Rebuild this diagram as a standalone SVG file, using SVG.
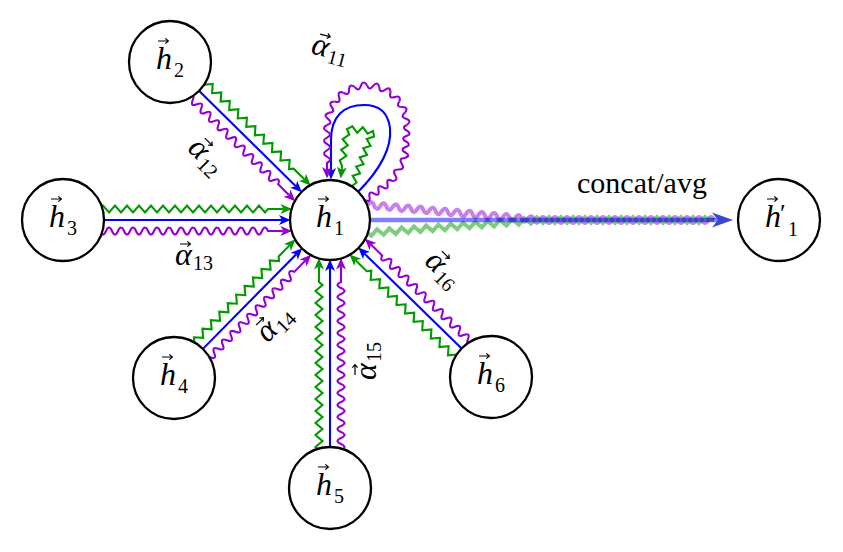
<svg xmlns="http://www.w3.org/2000/svg" width="843" height="552" viewBox="0 0 843 552">
<style>
.b{fill:none;stroke:#0000ff;stroke-width:2.1}
.g{fill:none;stroke:#009a00;stroke-width:2.1}
.p{fill:none;stroke:#9400d3;stroke-width:2.1}
.ob{fill:none;stroke:#0000ff;stroke-width:4.5;stroke-opacity:0.5}
.og{fill:none;stroke:#009a00;stroke-width:4;stroke-opacity:0.5}
.op{fill:none;stroke:#9400d3;stroke-width:4;stroke-opacity:0.5}
.node circle{fill:#fff;stroke:#000;stroke-width:2.3}
.lb{font-family:"Liberation Serif","DejaVu Serif",serif;font-style:italic;font-size:32px;fill:#000}
.s{font-style:normal;font-size:20px}
.vec{fill:none;stroke:#000;stroke-width:1.2}
.txt{font-family:"Liberation Serif","DejaVu Serif",serif;font-size:30px;fill:#000}
</style>
<defs>
<marker id="mb" markerUnits="userSpaceOnUse" orient="auto" overflow="visible" markerWidth="20" markerHeight="20" refX="0" refY="0"><path d="M8.5,0 L-3,-5 L0,0 L-3,5Z" fill="#0000ff"/></marker>
<marker id="mg" markerUnits="userSpaceOnUse" orient="auto" overflow="visible" markerWidth="20" markerHeight="20" refX="0" refY="0"><path d="M8.5,0 L-3,-5 L0,0 L-3,5Z" fill="#009a00"/></marker>
<marker id="mp" markerUnits="userSpaceOnUse" orient="auto" overflow="visible" markerWidth="20" markerHeight="20" refX="0" refY="0"><path d="M8.5,0 L-3,-5 L0,0 L-3,5Z" fill="#9400d3"/></marker>
<marker id="mo" markerUnits="userSpaceOnUse" orient="auto" overflow="visible" markerWidth="30" markerHeight="30" refX="0" refY="0"><path d="M10,0 L-11,-7.5 L-5,0 L-11,7.5Z" fill="#3a48cf"/></marker>
<path id="vec" class="vec" d="M0,0 H10 M7.3,-2.6 L10.4,0 L7.3,2.6"/>
<g id="edgeLong">
<path class="b" d="M242,0 L48,0" marker-end="url(#mb)"/>
<path class="g" d="M242,11 l-3,3.5 l-6,-7 l-6,7 l-6,-7 l-6,7 l-6,-7 l-6,7 l-6,-7 l-6,7 l-6,-7 l-6,7 l-6,-7 l-6,7 l-6,-7 l-6,7 l-6,-7 l-6,7 l-6,-7 l-6,7 l-6,-7 l-6,7 l-6,-7 l-6,7 l-6,-7 l-6,7 l-6,-7 l-6,7 l-6,-7 l-6,7 l-6,-7 l-3,3.5 L46.5,11" marker-end="url(#mg)"/>
<path class="p" d="M242,-11 q-3,-7 -6,0 t-6,0 t-6,0 t-6,0 t-6,0 t-6,0 t-6,0 t-6,0 t-6,0 t-6,0 t-6,0 t-6,0 t-6,0 t-6,0 t-6,0 t-6,0 t-6,0 t-6,0 t-6,0 t-6,0 t-6,0 t-6,0 t-6,0 t-6,0 t-6,0 t-6,0 t-6,0 t-6,0 t-6,0 t-6,0 L46.5,-11" marker-end="url(#mp)"/>
</g>
<g id="edgeDiag">
<path class="b" d="M194,0 L48,0" marker-end="url(#mb)"/>
<path class="g" d="M194,11 l-3,3.5 l-6,-7 l-6,7 l-6,-7 l-6,7 l-6,-7 l-6,7 l-6,-7 l-6,7 l-6,-7 l-6,7 l-6,-7 l-6,7 l-6,-7 l-6,7 l-6,-7 l-6,7 l-6,-7 l-6,7 l-6,-7 l-6,7 l-6,-7 l-3,3.5 L46.5,11" marker-end="url(#mg)"/>
<path class="p" d="M194,-11 q-3,-7 -6,0 t-6,0 t-6,0 t-6,0 t-6,0 t-6,0 t-6,0 t-6,0 t-6,0 t-6,0 t-6,0 t-6,0 t-6,0 t-6,0 t-6,0 t-6,0 t-6,0 t-6,0 t-6,0 t-6,0 t-6,0 t-6,0 L46.5,-11" marker-end="url(#mp)"/>
</g>
<path id="arcw" d="M407,125 Q412.44,120.97 406.02,118.82 Q399.60,116.67 405.04,112.64"/>
</defs>
<rect width="843" height="552" fill="#fff"/>
<g id="connectors">
<use href="#edgeLong" transform="translate(330,220) rotate(180)"/>
<use href="#edgeLong" transform="translate(330,220) rotate(90)"/>
<use href="#edgeDiag" transform="translate(330,220) rotate(-135.4)"/>
<use href="#edgeDiag" transform="translate(330,220) rotate(134.6)"/>
<use href="#edgeDiag" transform="translate(330,220) rotate(44.3)"/>
<g id="selfloop">
<path class="b" d="M357,193 C380,170 392,148 390,128 C388,112 378,105 364,105 C344,105 331,116 331,140 L331,171" marker-end="url(#mb)"/>
<path class="g" d="M352,186 L356.55,182.48 352.70,175.76 360.06,173.31 356.20,166.59 363.56,164.14 359.70,157.41 367.06,154.97 363.21,148.24 370.56,145.80 366.71,139.07 374.06,136.62 373,131 367.57,133.59 362.83,127.21 357.17,132.79 352.43,126.41 347,129 349.26,134.69 342.60,139.18 347.83,145.27 341.17,149.76 346.41,155.85 339.74,160.34 342,166 341.6,170" marker-end="url(#mg)"/>
<path class="p" transform="translate(365,200) rotate(-35.1)" d="M0,0 q2.75,6 5.5,0 t5.5,0 t5.5,0 t5.5,0 t5.5,0 t5.5,0"/>
<path class="p" transform="translate(392,181) rotate(-60.5)" d="M0,0 q3.3,6 6.6,0 t6.6,0 t6.6,0 t6.6,0"/>
<path class="p" transform="translate(405,158) rotate(-86.5)" d="M0,0 q2.754,6 5.507,0 t5.507,0 t5.507,0 t5.507,0 t5.507,0 t5.507,0"/>
<use class="p" href="#arcw"/>
<use class="p" href="#arcw" transform="rotate(-18 367 125)"/>
<use class="p" href="#arcw" transform="rotate(-36 367 125)"/>
<use class="p" href="#arcw" transform="rotate(-54 367 125)"/>
<use class="p" href="#arcw" transform="rotate(-72 367 125)"/>
<use class="p" href="#arcw" transform="rotate(-90 367 125)"/>
<use class="p" href="#arcw" transform="rotate(-108 367 125)"/>
<use class="p" href="#arcw" transform="rotate(-126 367 125)"/>
<use class="p" href="#arcw" transform="rotate(-144 367 125)"/>
<use class="p" href="#arcw" transform="rotate(-162 367 125)"/>
<path class="p" d="M327,125 q-6,3.167 0,6.333 t0,6.333 t0,6.333 t0,6.333 t0,6.333 t0,6.333 L327,170" marker-end="url(#mp)"/>
</g>
<g id="output">
<path class="op" transform="translate(368,205) rotate(4.98)" d="M0,0 q3.083,-6 6.166,0 t6.166,0 t6.166,0 t6.166,0 t6.166,0 t6.166,0 t6.166,0 t6.166,0 t6.166,0 t6.166,0 t6.166,0 t6.166,0 t6.166,0 t6.166,0 t6.166,0 t6.166,0 t6.166,0 t6.166,0 t6.166,0 t6.166,0 t6.166,0 t6.166,0 t6.166,0 t6.166,0 t6.166,0 t6.166,0 t6.166,0 t6.166,0"/>
<path class="op" d="M540,220 q3,-6 6,0 t6,0 t6,0 t6,0 t6,0 t6,0 t6,0 t6,0 t6,0 t6,0 t6,0 t6,0 t6,0 t6,0 t6,0 t6,0 t6,0 t6,0 t6,0 t6,0 t6,0 t6,0 t6,0 t6,0 t6,0 t6,0 t6,0 t6,0 t6,0"/>
<path class="og" transform="translate(368,233) rotate(-4.32)" d="M0,0 l3.08,3 l6.16,-6 l6.16,6 l6.16,-6 l6.16,6 l6.16,-6 l6.16,6 l6.16,-6 l6.16,6 l6.16,-6 l6.16,6 l6.16,-6 l6.16,6 l6.16,-6 l6.16,6 l6.16,-6 l6.16,6 l6.16,-6 l6.16,6 l6.16,-6 l6.16,6 l6.16,-6 l6.16,6 l6.16,-6 l6.16,6 l6.16,-6 l6.16,6 l6.16,-6 l3.08,3"/>
<path class="og" d="M540,220 l3,3 l6,-6 l6,6 l6,-6 l6,6 l6,-6 l6,6 l6,-6 l6,6 l6,-6 l6,6 l6,-6 l6,6 l6,-6 l6,6 l6,-6 l6,6 l6,-6 l6,6 l6,-6 l6,6 l6,-6 l6,6 l6,-6 l6,6 l6,-6 l6,6 l6,-6 l3,3 L714,220"/>
<path class="ob" d="M368,220 L723,220" marker-end="url(#mo)"/>
</g>
</g>
<g id="nodes">
<g id="node-h1" class="node"><circle cx="330" cy="220" r="40"/><use href="#vec" x="318" y="199"/><text class="lb" x="316" y="227">h<tspan class="s" x="334" y="235">1</tspan></text></g>
<g id="node-h2" class="node"><circle cx="170" cy="62" r="41"/><use href="#vec" x="158" y="41"/><text class="lb" x="156" y="69">h<tspan class="s" x="174" y="77">2</tspan></text></g>
<g id="node-h3" class="node"><circle cx="63" cy="220" r="41"/><use href="#vec" x="51" y="199"/><text class="lb" x="49" y="227">h<tspan class="s" x="67" y="235">3</tspan></text></g>
<g id="node-h4" class="node"><circle cx="174" cy="378" r="41"/><use href="#vec" x="162" y="357"/><text class="lb" x="160" y="385">h<tspan class="s" x="178" y="393">4</tspan></text></g>
<g id="node-h5" class="node"><circle cx="330" cy="488" r="41"/><use href="#vec" x="318" y="467"/><text class="lb" x="316" y="495">h<tspan class="s" x="334" y="503">5</tspan></text></g>
<g id="node-h6" class="node"><circle cx="491" cy="377" r="41"/><use href="#vec" x="479" y="356"/><text class="lb" x="477" y="384">h<tspan class="s" x="495" y="392">6</tspan></text></g>
<g id="node-h1p" class="node"><circle cx="779" cy="220" r="41"/><use href="#vec" x="767" y="199"/><text class="lb" x="765" y="227">h<tspan class="s" x="780" y="222" style="font-size:26px">′</tspan><tspan class="s" x="788" y="236">1</tspan></text></g>
</g>
<g id="labels">
<g id="a11" transform="translate(333,52) rotate(15)"><use href="#vec" x="-17" y="-14"/><text class="lb" x="-22" y="7">α<tspan class="s" x="-4" y="12">11</tspan></text></g>
<g id="a12" transform="translate(207,160) rotate(45)"><use href="#vec" x="-17" y="-14"/><text class="lb" x="-22" y="7">α<tspan class="s" x="-4" y="12">12</tspan></text></g>
<g id="a13" transform="translate(197,258)"><use href="#vec" x="-17" y="-14"/><text class="lb" x="-22" y="7">α<tspan class="s" x="-4" y="12">13</tspan></text></g>
<g id="a14" transform="translate(278,323) rotate(-45)"><use href="#vec" x="-17" y="-14"/><text class="lb" x="-22" y="7">α<tspan class="s" x="-4" y="12">14</tspan></text></g>
<g id="a15" transform="translate(369,358) rotate(-90)"><use href="#vec" x="-17" y="-14"/><text class="lb" x="-22" y="7">α<tspan class="s" x="-4" y="12">15</tspan></text></g>
<g id="a16" transform="translate(444,273) rotate(45)"><use href="#vec" x="-17" y="-14"/><text class="lb" x="-22" y="7">α<tspan class="s" x="-4" y="12">16</tspan></text></g>
<text class="txt" x="577" y="193">concat/avg</text>
</g>
</svg>
